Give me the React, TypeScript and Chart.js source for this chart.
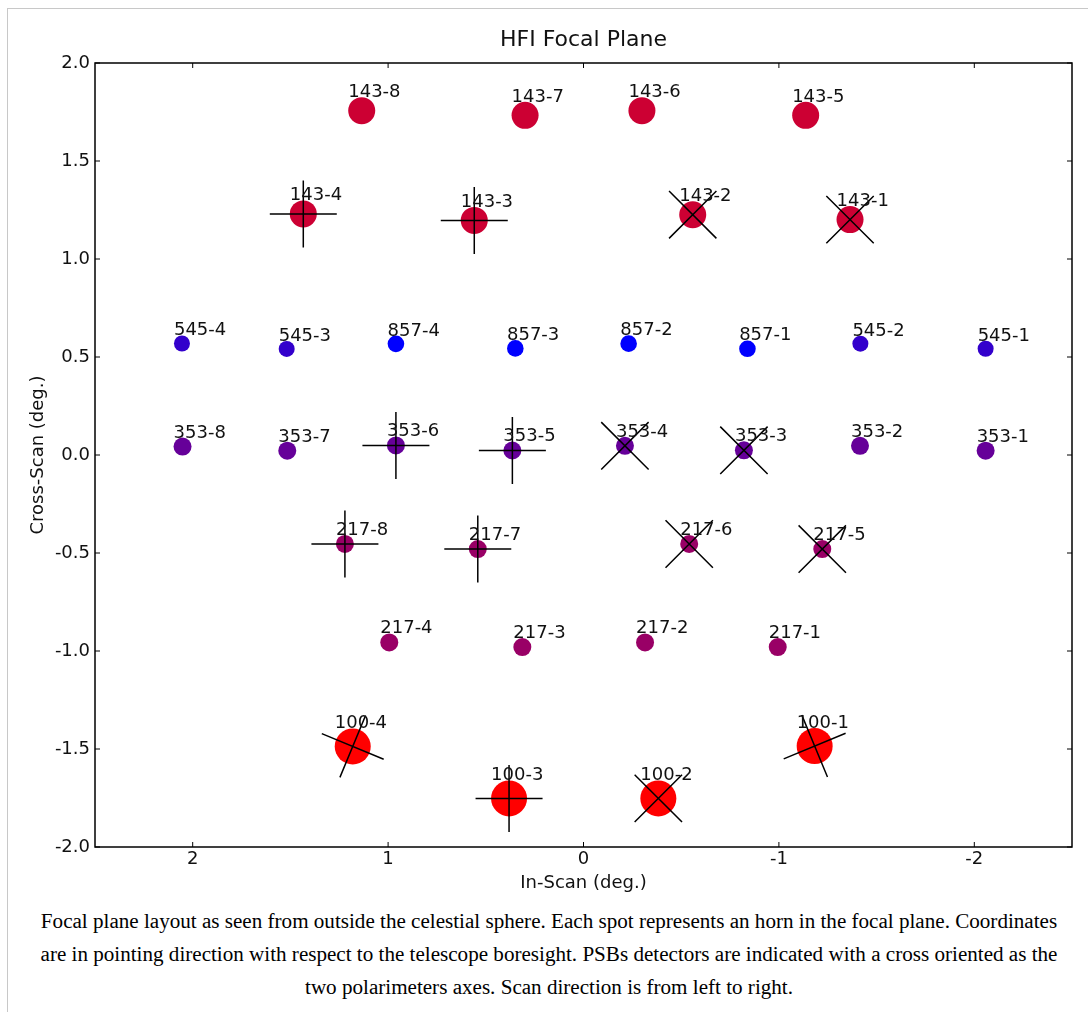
import { useEffect, useRef } from 'react';
import { Chart, registerables } from 'chart.js';

Chart.register(...registerables);

// ---- Data (degrees) ----
const xTicks = [2, 1, 0, -1, -2];
const yTicks = [-2, -1.5, -1, -0.5, 0, 0.5, 1, 1.5, 2];

const names143 = ['143-1', '143-2', '143-3', '143-4', '143-5', '143-6', '143-7', '143-8'];
const x143 = [-1.364, -0.559, 0.559, 1.434, -1.137, -0.299, 0.299, 1.135];
const y143 = [1.201, 1.226, 1.197, 1.230, 1.733, 1.757, 1.733, 1.757];

const names100 = ['100-1', '100-2', '100-3', '100-4'];
const x100 = [-1.183, -0.383, 0.381, 1.181];
const y100 = [-1.485, -1.752, -1.752, -1.487];

const names217 = ['217-1', '217-2', '217-3', '217-4', '217-5', '217-6', '217-7', '217-8'];
const x217 = [-0.994, -0.315, 0.313, 0.994, -1.222, -0.541, 0.541, 1.221];
const y217 = [-0.980, -0.956, -0.980, -0.956, -0.480, -0.454, -0.480, -0.454];

const names353 = ['353-1', '353-2', '353-3', '353-4', '353-5', '353-6', '353-7', '353-8'];
const x353 = [-2.058, -1.415, -0.821, -0.212, 0.364, 0.960, 1.516, 2.052];
const y353 = [0.022, 0.047, 0.024, 0.047, 0.023, 0.049, 0.022, 0.043];

const names545 = ['545-1', '545-2', '545-3', '545-4'];
const x545 = [-2.058, -1.417, 1.519, 2.055];
const y545 = [0.542, 0.568, 0.541, 0.569];

const names857 = ['857-1', '857-2', '857-3', '857-4'];
const x857 = [-0.839, -0.231, 0.349, 0.960];
const y857 = [0.542, 0.568, 0.544, 0.567];

// Polarisation-sensitive bolometers and the orientation of their cross (deg)
const psbNames = ['143-1', '143-2', '143-3', '143-4', '217-5', '217-6', '217-7', '217-8',
  '353-3', '353-4', '353-5', '353-6', '100-1', '100-2', '100-3', '100-4'];
const psbAngles = [45, 45, 0, 0, 45, 45, 0, 0, 45, 45, 0, 0, -22.5, 45, 0, 22.5];

const captionLines = [
  'Focal plane layout as seen from outside the celestial sphere. Each spot represents an horn in the focal plane. Coordinates',
  'are in pointing direction with respect to the telescope boresight. PSBs detectors are indicated with a cross oriented as the',
  'two polarimeters axes. Scan direction is from left to right.',
];

const FONT = '"DejaVu Sans", sans-serif';
const TEXT = '#111';

export default function App() {
  const ref = useRef<HTMLCanvasElement>(null);

  useEffect(() => {
    const bands = [
      { names: names143, x: x143, y: y143, color: '#cc0033', r: 13.5 },
      { names: names100, x: x100, y: y100, color: '#ff0000', r: 18 },
      { names: names217, x: x217, y: y217, color: '#990066', r: 9 },
      { names: names353, x: x353, y: y353, color: '#660099', r: 9 },
      { names: names545, x: x545, y: y545, color: '#3300cc', r: 8 },
      { names: names857, x: x857, y: y857, color: '#0000ff', r: 8.3 },
    ];

    const lookup: Record<string, { x: number; y: number }> = {};
    bands.forEach((b) => b.names.forEach((n, i) => { lookup[n] = { x: b.x[i], y: b.y[i] }; }));

    const bandSets = bands.map((b) => ({
      label: b.names[0].split('-')[0],
      data: b.x.map((x, i) => ({ x, y: b.y[i] })),
      pointRadius: b.r,
      pointHoverRadius: b.r,
      pointBackgroundColor: b.color,
      pointBorderColor: b.color,
      pointBorderWidth: 0,
      order: 2,
    }));

    const crossSet = {
      label: 'PSB',
      data: psbNames.map((n) => ({ x: lookup[n].x, y: lookup[n].y })),
      pointStyle: 'cross',
      pointRadius: 33.5,
      pointHoverRadius: 33.5,
      pointRotation: psbAngles,
      pointBorderColor: '#000',
      pointBackgroundColor: 'rgba(0,0,0,0)',
      pointBorderWidth: 1.5,
      order: 0,
    };

    const framePlugin = {
      id: 'frameAndLabels',
      afterDraw(chart: any) {
        const { ctx, chartArea: a, scales } = chart;
        ctx.save();
        // detector labels at top-left of each spot
        ctx.font = `18px ${FONT}`;
        ctx.fillStyle = TEXT;
        ctx.textAlign = 'left';
        ctx.textBaseline = 'alphabetic';
        bands.forEach((b, di) => {
          const meta = chart.getDatasetMeta(di);
          meta.data.forEach((el: any, i: number) => {
            ctx.fillText(b.names[i], el.x - b.r, el.y - b.r);
          });
        });
        // frame
        ctx.strokeStyle = '#000';
        ctx.lineWidth = 1.5;
        ctx.strokeRect(a.left, a.top, a.right - a.left, a.bottom - a.top);
        // inward ticks on all four sides
        ctx.lineWidth = 1;
        const tl = 5;
        ctx.beginPath();
        xTicks.forEach((v) => {
          const px = scales.x.getPixelForValue(v);
          ctx.moveTo(px, a.bottom); ctx.lineTo(px, a.bottom - tl);
          ctx.moveTo(px, a.top); ctx.lineTo(px, a.top + tl);
        });
        yTicks.forEach((v) => {
          const py = scales.y.getPixelForValue(v);
          ctx.moveTo(a.left, py); ctx.lineTo(a.left + tl, py);
          ctx.moveTo(a.right, py); ctx.lineTo(a.right - tl, py);
        });
        ctx.stroke();
        ctx.restore();
      },
    };

    const chart = new Chart(ref.current as HTMLCanvasElement, {
      type: 'scatter',
      data: { datasets: [...bandSets, crossSet] as any },
      options: {
        animation: false,
        responsive: false,
        events: [],
        layout: { autoPadding: false, padding: { left: 0, right: 16, top: 0, bottom: 0 } },
        plugins: {
          legend: { display: false },
          tooltip: { enabled: false },
          title: {
            display: true,
            text: 'HFI Focal Plane',
            fullSize: false,
            color: TEXT,
            font: { family: FONT, size: 22, weight: 'normal' },
            padding: { top: 26.8, bottom: 9.8 },
          },
        },
        scales: {
          x: {
            type: 'linear',
            min: -2.5,
            max: 2.5,
            reverse: true,
            grid: { display: false, drawTicks: false },
            border: { display: false },
            afterFit: (s: any) => { s.height = 53; s.paddingLeft = 0; s.paddingRight = 0; },
            afterBuildTicks: (s: any) => { s.ticks = xTicks.map((v) => ({ value: v })); },
            ticks: {
              padding: 2,
              color: TEXT,
              font: { family: FONT, size: 18 },
              callback: (v: any) => String(v),
            },
            title: {
              display: true,
              text: 'In-Scan (deg.)',
              color: TEXT,
              font: { family: FONT, size: 18 },
              padding: { top: 0, bottom: 5.5 },
            },
          },
          y: {
            type: 'linear',
            min: -2,
            max: 2,
            grid: { display: false, drawTicks: false },
            border: { display: false },
            afterFit: (s: any) => { s.width = 95; s.paddingTop = 0; s.paddingBottom = 0; },
            afterBuildTicks: (s: any) => { s.ticks = yTicks.map((v) => ({ value: v })); },
            ticks: {
              padding: 5,
              color: TEXT,
              font: { family: FONT, size: 18 },
              callback: (v: any) => Number(v).toFixed(1),
            },
            title: {
              display: true,
              text: 'Cross-Scan (deg.)',
              color: TEXT,
              font: { family: FONT, size: 18 },
              padding: { top: 27.7, bottom: 0 },
            },
          },
        },
      } as any,
      plugins: [framePlugin],
    });
    return () => chart.destroy();
  }, []);

  return (
    <>
      <div
        style={{
          position: 'absolute', left: 7, top: 8, width: 1081, height: 1004,
          borderTop: '1px solid #c8c8c8', borderLeft: '1px solid #c8c8c8', boxSizing: 'border-box',
        }}
      />
      <canvas
        ref={ref}
        width={1088}
        height={900}
        style={{ position: 'absolute', left: 0, top: 0, width: 1088, height: 900 }}
      />
      <div
        style={{
          position: 'absolute', left: 14, top: 905, width: 1070, textAlign: 'center',
          fontFamily: '"Liberation Serif", "Times New Roman", serif', fontSize: 21.1,
          lineHeight: '33px', color: '#000', whiteSpace: 'nowrap',
        }}
      >
        {captionLines.map((l, i) => (
          <div key={i}>{l}</div>
        ))}
      </div>
    </>
  );
}
